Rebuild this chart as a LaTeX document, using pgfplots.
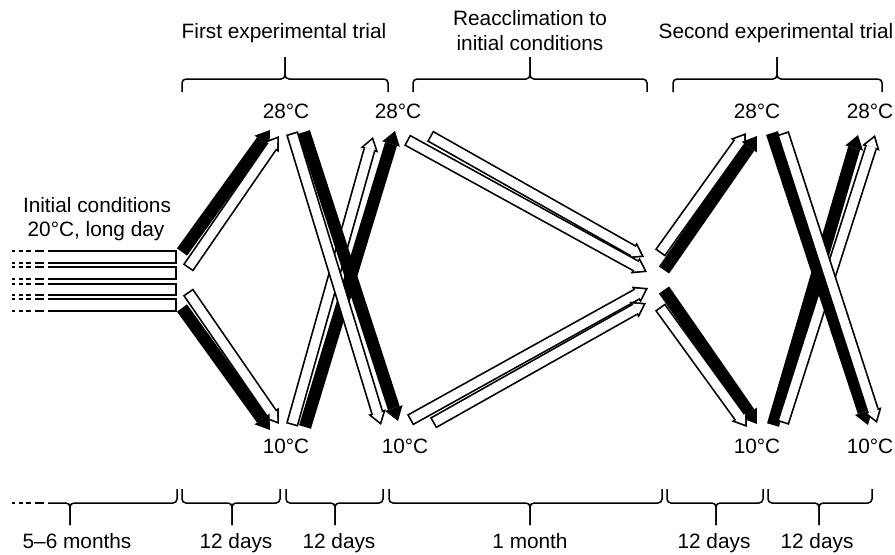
\documentclass[border=0pt]{standalone}
\usepackage{pgfplots}
\pgfplotsset{compat=1.18}
\usepackage{fontspec}
\setmainfont{Liberation Sans}
\usetikzlibrary{arrows.meta}
\tikzset{
  blk/.style={draw=black, line width=6.2pt, -{Triangle[length=6.8pt,width=9.2pt,line width=0pt]}},
  wht/.style={draw=white, line width=4.5pt, shorten <=0.85pt, shorten >=1.52pt, -{Triangle[length=4.43pt,width=6pt,line width=0pt]}},
  brc/.style={draw=black, line width=0.75pt, rounded corners=2pt},
  lbl/.style={font=\fontsize{10.4pt}{12pt}\selectfont, anchor=base, inner sep=0pt},
  dsh/.style={draw=black, line width=0.9pt, dash pattern=on 1.5pt off 2pt on 2pt off 1.5pt on 2.5pt off 2pt on 4.5pt off 1pt},
}
\newcommand\barr[2]{\addplot[blk] coordinates {#1 #2};}
\newcommand\warr[2]{\addplot[blk] coordinates {#1 #2};\addplot[wht] coordinates {#1 #2};}
\begin{document}
\begin{tikzpicture}
\begin{axis}[width=447.5pt,height=277pt,scale only axis,
  xmin=0,xmax=895,ymin=0,ymax=554,y dir=reverse,
  hide axis,clip=false,no markers]
\addplot[draw=none] coordinates {(0,0)(895,554)};
% ---- titles
\node[lbl] at (axis cs:284,38) {First experimental trial};
\node[lbl] at (axis cs:530,25) {Reacclimation to};
\node[lbl] at (axis cs:530,50) {initial conditions};
\node[lbl] at (axis cs:776,38) {Second experimental trial};
% ---- top braces
\addplot[brc] coordinates {(182,92)(182,79)(285,79)(285,57)};
\addplot[brc] coordinates {(285,57)(285,79)(388,79)(388,92)};
\addplot[brc] coordinates {(413,92)(413,79)(530,79)(530,57)};
\addplot[brc] coordinates {(530,57)(530,79)(647,79)(647,92)};
\addplot[brc] coordinates {(673,92)(673,79)(777,79)(777,57)};
\addplot[brc] coordinates {(777,57)(777,79)(882,79)(882,92)};
% ---- temperature labels
\node[lbl] at (axis cs:286,118) {28°C};
\node[lbl] at (axis cs:398,118) {28°C};
\node[lbl] at (axis cs:757,118) {28°C};
\node[lbl] at (axis cs:870,118) {28°C};
\node[lbl] at (axis cs:286,453) {10°C};
\node[lbl] at (axis cs:405,453) {10°C};
\node[lbl] at (axis cs:757,453) {10°C};
\node[lbl] at (axis cs:870,453) {10°C};
% ---- initial conditions
\node[lbl] at (axis cs:97,212) {Initial conditions};
\node[lbl] at (axis cs:96,236) {20°C, long day};
\addplot[black, line width=0.9pt] coordinates {(48,251)(176,251)(176,263)(48,263)};
\addplot[black, line width=0.9pt] coordinates {(48,267)(176,267)(176,279)(48,279)};
\addplot[black, line width=0.9pt] coordinates {(48,284)(176,284)(176,295)(48,295)};
\addplot[black, line width=0.9pt] coordinates {(48,299)(176,299)(176,311)(48,311)};
\addplot[dsh] coordinates {(12,251)(44,251)};
\addplot[dsh] coordinates {(12,263)(44,263)};
\addplot[dsh] coordinates {(12,267)(44,267)};
\addplot[dsh] coordinates {(12,279)(44,279)};
\addplot[dsh] coordinates {(12,284)(44,284)};
\addplot[dsh] coordinates {(12,295)(44,295)};
\addplot[dsh] coordinates {(12,299)(44,299)};
\addplot[dsh] coordinates {(12,311)(44,311)};
% ---- first trial fan-out
\barr{(182,252)}{(270,130)}
\warr{(188,268)}{(279,136)}
\warr{(188,292)}{(279,424)}
\barr{(182,308)}{(270,430)}
% ---- first trial X: up arrows then down arrows
\warr{(292,425)}{(373,137)}
\barr{(305,427)}{(395,131)}
\warr{(292,133)}{(381,425)}
\barr{(304,132)}{(398,421)}
% ---- reacclimation
\warr{(430,136)}{(644,257)}
\warr{(407,140)}{(647,272)}
\warr{(410,420)}{(648,288)}
\warr{(433,423)}{(646,303)}
% ---- second trial fan-out
\warr{(660,253)}{(746,133)}
\barr{(664,270)}{(757,136)}
\barr{(664,290)}{(757,424)}
\warr{(660,307)}{(747,427)}
% ---- second trial X
\barr{(773,425)}{(858,135)}
\warr{(783,423)}{(875,135)}
\barr{(772,133)}{(868,425)}
\warr{(783,133)}{(877,423)}
% ---- bottom braces
\addplot[dsh, line width=0.75pt] coordinates {(12,503)(44,503)};
\addplot[brc] coordinates {(48,503)(70,503)(70,525)};
\addplot[brc] coordinates {(70,525)(70,503)(177,503)(177,489)};
\addplot[brc] coordinates {(182,489)(182,503)(232,503)(232,525)};
\addplot[brc] coordinates {(232,525)(232,503)(280,503)(280,489)};
\addplot[brc] coordinates {(286,489)(286,503)(335,503)(335,525)};
\addplot[brc] coordinates {(335,525)(335,503)(383,503)(383,489)};
\addplot[brc] coordinates {(389,489)(389,503)(530,503)(530,525)};
\addplot[brc] coordinates {(530,525)(530,503)(662,503)(662,489)};
\addplot[brc] coordinates {(667,489)(667,503)(716,503)(716,525)};
\addplot[brc] coordinates {(716,525)(716,503)(763,503)(763,489)};
\addplot[brc] coordinates {(768,489)(768,503)(819,503)(819,525)};
\addplot[brc] coordinates {(819,525)(819,503)(872,503)(872,489)};
% ---- bottom labels
\node[lbl] at (axis cs:77,548) {5–6 months};
\node[lbl] at (axis cs:236,548) {12 days};
\node[lbl] at (axis cs:339,548) {12 days};
\node[lbl] at (axis cs:530,548) {1 month};
\node[lbl] at (axis cs:714,548) {12 days};
\node[lbl] at (axis cs:817,548) {12 days};
\end{axis}
\end{tikzpicture}
\end{document}
